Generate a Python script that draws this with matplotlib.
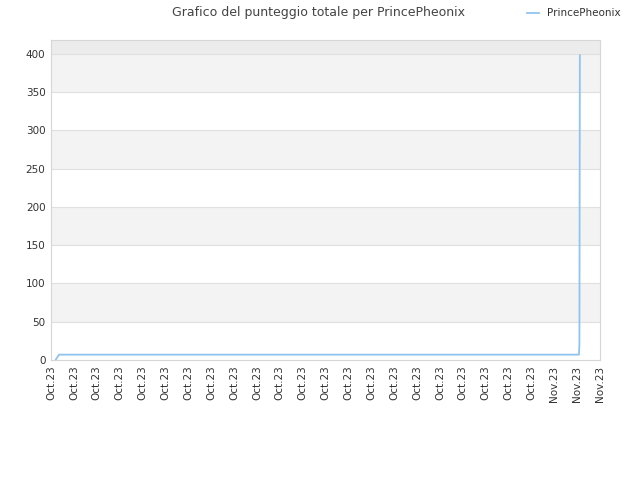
import matplotlib
matplotlib.use("Agg")
import matplotlib.pyplot as plt

# -----------------------------------
# Data
# -----------------------------------
tick_labels = ["Oct.23"] * 22 + ["Nov.23"] * 3
point_x = [0.2, 0.35, 23.08, 23.1, 23.12]
point_score = [0, 7, 7, 21, 398]
series_name = "PrincePheonix"

# -----------------------------------
# Figure
# -----------------------------------
fig = plt.figure(figsize=(6.4, 4.8), dpi=100)
ax = fig.add_axes([0.0797, 0.25, 0.8578, 0.6667])

ymax = 418
# alternating bands
for i, lo in enumerate(range(0, 450, 50)):
    hi = min(lo + 50, ymax)
    if lo >= 400:
        color = "#ececec"
    elif i % 2 == 1:
        color = "#f3f3f3"
    else:
        color = "#ffffff"
    ax.axhspan(lo, hi, color=color, zorder=0, lw=0)

for v in range(50, 450, 50):
    ax.axhline(v, color="#e0e0e0", lw=0.8, zorder=1)

ax.plot(point_x, point_score, color="#90c4f0", lw=1.3, label=series_name, zorder=3)

ax.set_xlim(0, len(tick_labels) - 1)
ax.set_ylim(0, ymax)
ax.set_xticks(range(len(tick_labels)))
ax.set_xticklabels(tick_labels, rotation=90, fontsize=7.5, color="#333333")
ax.set_yticks(range(0, 401, 50))
ax.tick_params(axis="y", labelsize=7.5, colors="#333333")
ax.tick_params(length=0, pad=4)

for s in ax.spines.values():
    s.set_color("#d6d6d6")
    s.set_linewidth(0.8)

fig.text(0.497, 0.974, "Grafico del punteggio totale per PrincePheonix",
         ha="center", va="center", fontsize=9, color="#444444")

leg = fig.legend(loc="upper right", bbox_to_anchor=(0.985, 1.002), frameon=False,
                 fontsize=7.5, handlelength=1.2)
for t in leg.get_texts():
    t.set_color("#333333")

fig.savefig("out.png", dpi=100)
